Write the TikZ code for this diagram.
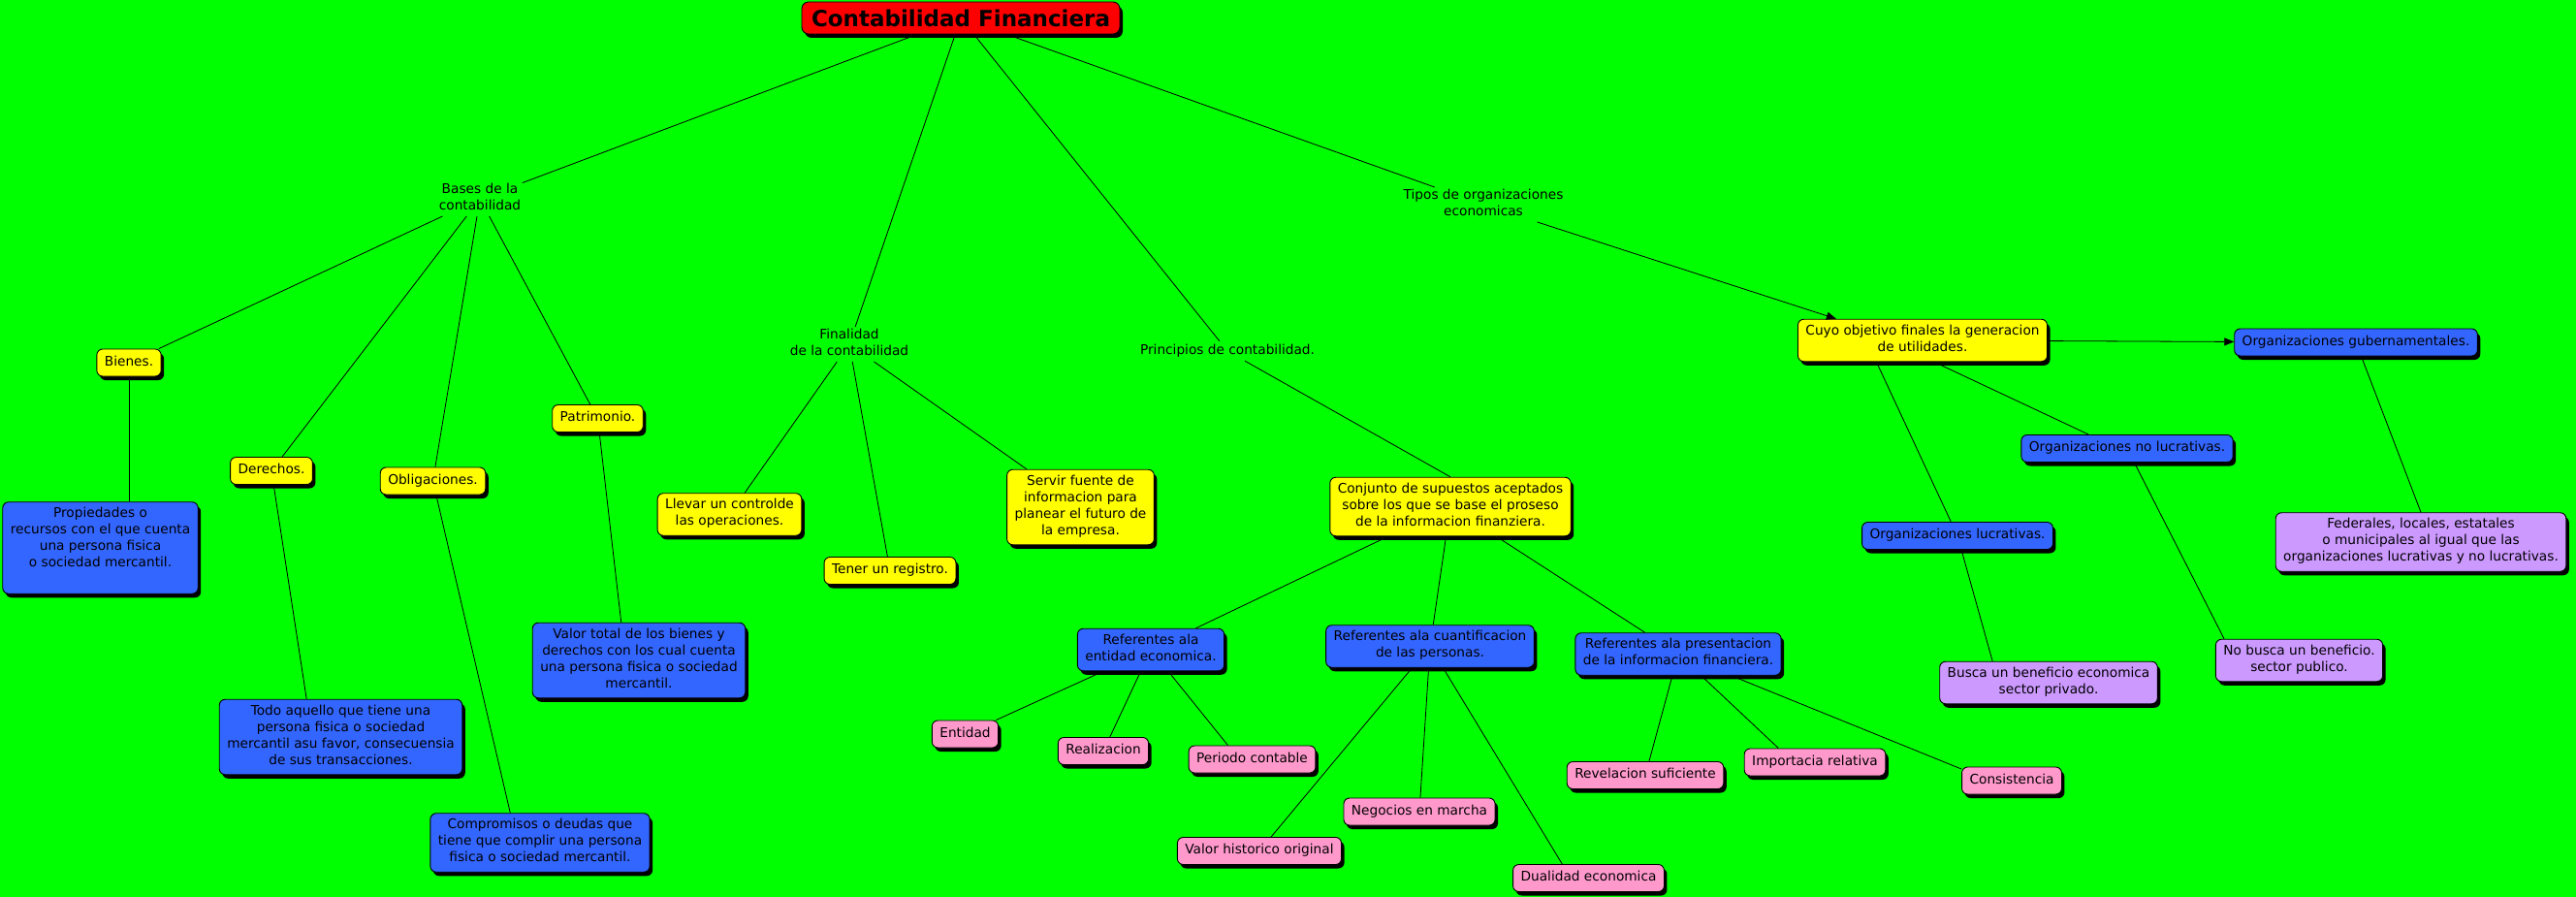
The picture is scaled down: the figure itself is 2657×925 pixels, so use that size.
\documentclass[tikz,border=0pt]{standalone}
\usepackage{fontspec}
\setmainfont{DejaVu Sans}
\usetikzlibrary{arrows.meta, shadows}
\definecolor{mapgreen}{RGB}{0,255,0}
\definecolor{mapred}{RGB}{255,0,0}
\definecolor{mapyellow}{RGB}{255,255,0}
\definecolor{mapblue}{RGB}{51,102,255}
\definecolor{mappink}{RGB}{255,153,204}
\definecolor{maplilac}{RGB}{204,153,255}

\begin{document}
\begin{tikzpicture}[x=1pt, y=-1pt,
  boxshadow/.style={drop shadow={shadow xshift=3pt, shadow yshift=-4pt, fill=black, opacity=1}},
  concept/.style={draw=black, line width=0.9pt, rounded corners=6pt, align=center,
    font=\fontsize{13.7}{17}\selectfont, inner xsep=8pt, inner ysep=5.5pt,
    execute at begin node=\strut, execute at end node=\strut, boxshadow},
  yellowbox/.style={concept, fill=mapyellow},
  bluebox/.style={concept, fill=mapblue},
  pinkbox/.style={concept, fill=mappink},
  lilacbox/.style={concept, fill=maplilac},
  titlebox/.style={draw=black, line width=0.9pt, fill=mapred, rounded corners=7pt,
    font=\fontsize{23}{27}\selectfont\bfseries, inner xsep=10pt, minimum height=33pt, boxshadow},
  linkword/.style={align=center, font=\fontsize{13.7}{17}\selectfont, inner sep=1.5pt,
    execute at begin node=\strut, execute at end node=\strut},
  joinline/.style={line width=0.8pt},
  arrowed/.style={-{Triangle[length=10pt,width=8pt]}}]
  % Background
  \fill[mapgreen] (0,0) rectangle (2657,925);
  \useasboundingbox (0,0) rectangle (2657,925);

  % Main concept and linking phrases
  \node[titlebox] (titulo) at (991,18.5) {Contabilidad Financiera};
  \node[linkword] (bases) at (495,205) {Bases de la\\contabilidad};
  \node[linkword] (finalidad) at (876,355) {Finalidad\\de la contabilidad};
  \node[linkword] (principios) at (1266,362) {Principios de contabilidad.};
  \node[linkword] (tipos) at (1530,211) {Tipos de organizaciones\\economicas};

  % Yellow concepts
  \node[yellowbox] (bienes) at (133,374) {Bienes.};
  \node[yellowbox] (derechos) at (280,485.5) {Derechos.};
  \node[yellowbox] (obligaciones) at (446.5,496) {Obligaciones.};
  \node[yellowbox] (patrimonio) at (616.5,431.5) {Patrimonio.};
  \node[yellowbox] (llevar) at (752.5,530.5) {Llevar un controlde\\las operaciones.};
  \node[yellowbox] (tener) at (918,588.5) {Tener un registro.};
  \node[yellowbox] (servir) at (1114.5,523) {Servir fuente de\\informacion para\\planear el futuro de\\la empresa.};
  \node[yellowbox] (conjunto) at (1496,522.5) {Conjunto de supuestos aceptados\\sobre los que se base el proseso\\de la informacion finanziera.};
  \node[yellowbox] (cuyo) at (1983,351) {Cuyo objetivo finales la generacion\\de utilidades.};

  % Blue concepts
  \node[bluebox] (propiedades) at (103.5,565) {Propiedades o\\recursos con el que cuenta\\una persona fisica\\o sociedad mercantil.\\~};
  \node[bluebox] (todo) at (351.5,760) {Todo aquello que tiene una\\persona fisica o sociedad\\mercantil asu favor, consecuensia\\de sus transacciones.};
  \node[bluebox] (valor) at (659,681) {Valor total de los bienes y\\derechos con los cual cuenta\\una persona fisica o sociedad\\mercantil.};
  \node[bluebox] (compromisos) at (557,869) {Compromisos o deudas que\\tiene que complir una persona\\fisica o sociedad mercantil.};
  \node[bluebox] (refent) at (1187,670) {Referentes ala\\entidad economica.};
  \node[bluebox] (refcuant) at (1475,666.5) {Referentes ala cuantificacion\\de las personas.};
  \node[bluebox] (refpres) at (1731,674.5) {Referentes ala presentacion\\de la informacion financiera.};
  \node[bluebox] (gub) at (2430,353) {Organizaciones gubernamentales.};
  \node[bluebox] (nolucr) at (2194,462.5) {Organizaciones no lucrativas.};
  \node[bluebox] (lucr) at (2019,552.5) {Organizaciones lucrativas.};

  % Pink principles
  \foreach \name/\px/\py/\txt in {entidad/995.5/757/Entidad, realizacion/1138/774.5/Realizacion,
      periodo/1291.5/783/Periodo contable, valorhist/1299/877.5/Valor historico original,
      negocios/1464/837/Negocios en marcha, dualidad/1638.5/905.5/Dualidad economica,
      revelacion/1697/799.5/Revelacion suficiente, importancia/1872/786/Importacia relativa,
      consistencia/2075/805/Consistencia}
    \node[pinkbox] (\name) at (\px,\py) {\txt};

  % Lilac descriptions
  \node[lilacbox] (busca) at (2113,704) {Busca un beneficio economica\\sector privado.};
  \node[lilacbox] (nobusca) at (2371.5,681) {No busca un beneficio.\\sector publico.};
  \node[lilacbox] (federales) at (2497,559) {Federales, locales, estatales\\o municipales al igual que las\\organizaciones lucrativas y no lucrativas.};

  % Connectors
  \foreach \a/\b in {titulo/bases, titulo/finalidad, titulo/principios, titulo/tipos,
      bases/bienes, bases/derechos, bases/obligaciones, bases/patrimonio,
      derechos/todo.132, obligaciones/compromisos.135, patrimonio/valor.115,
      finalidad/llevar, finalidad/tener, finalidad/servir, principios/conjunto.north,
      conjunto/refent, conjunto/refcuant, conjunto/refpres,
      refent/entidad, refent/realizacion, refent/periodo.150,
      refcuant/valorhist, refcuant/negocios, refcuant/dualidad.152,
      refpres/revelacion, refpres/importancia.159, refpres/consistencia.167,
      cuyo.205/lucr, cuyo.298/nolucr.160, lucr/busca.159, nolucr/nobusca.164,
      gub/federales.north}
    \draw[joinline] (\a) -- (\b);
  \draw[joinline] (bienes) -- (bienes |- propiedades.north);
  \draw[joinline, arrowed] (tipos) -- (cuyo.166);
  \draw[joinline, arrowed] (cuyo) -- (gub);
\end{tikzpicture}
\end{document}
